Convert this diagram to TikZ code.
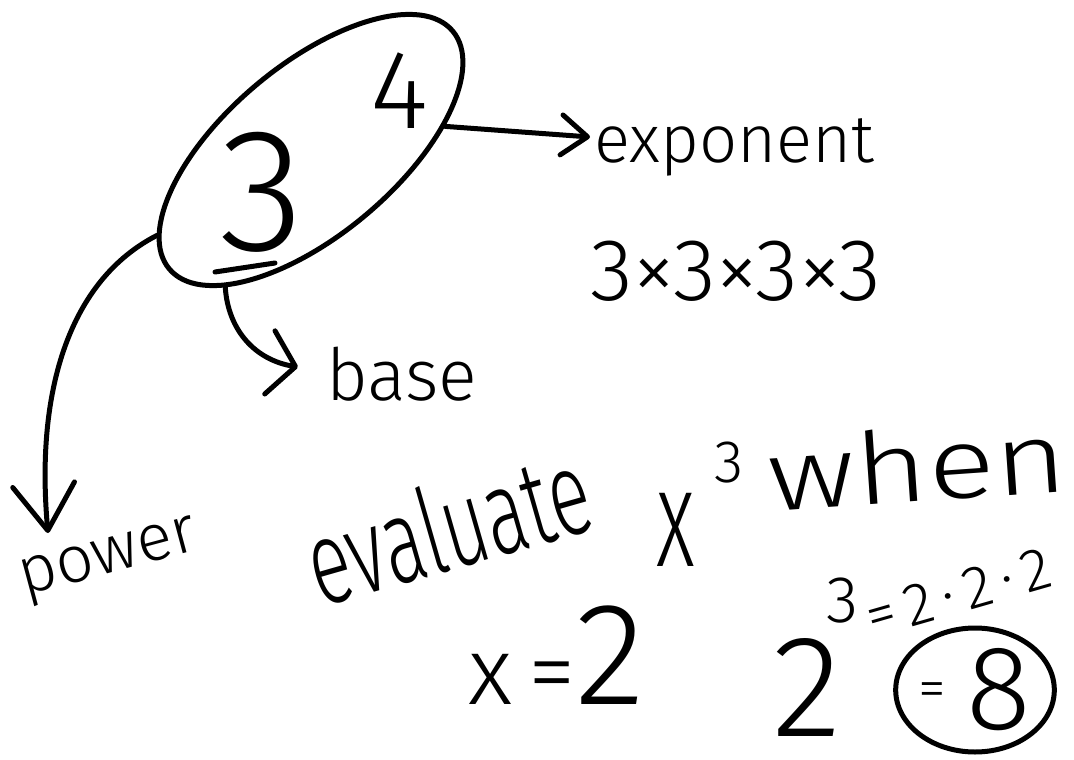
\documentclass[tikz,border=0pt]{standalone}
\usepackage{fontspec}
\setmainfont{Fira Sans}[UprightFont={* Light}]
\usepackage{tikz}
\usetikzlibrary{arrows.meta, shapes.geometric}
\newcommand{\inkfont}[1]{\fontsize{#1}{#1}\selectfont}

\begin{document}
\begin{tikzpicture}[
    x=1pt, y=-1pt,
    ink/.style={line width=5pt, line cap=round, line join=round},
    word/.style={inner sep=0pt, anchor=base west},
    digit/.style={inner sep=0pt},
  ]
  \useasboundingbox[fill=white] (0,0) rectangle (1074,760);
  % 3 to the power 4
  \node[ink, draw, ellipse, rotate=40, minimum width=370pt, minimum height=170pt, inner sep=0pt] (pow) at (311,150) {};
  \node[digit, font=\inkfont{175}] (base3) at (262,192) {3};
  \node[digit, font=\inkfont{112}] (exp4)  at (400,91)  {4};
  \draw[ink] (215,272) -- (275,263);
  % labels
  \node[word, font=\inkfont{67}] (expo) at (594,162) {exponent};
  \node[word, font=\inkfont{88}] (prod) at (590,300) {3×3×3×3};
  \node[word, font=\inkfont{72}] (basew) at (326,400) {base};
  \node[word, font=\inkfont{66}, rotate=15] (powerw) at (24,596) {power};
  \coordinate (expotip)  at (590,137);
  \coordinate (basetip)  at (298,367);
  \coordinate (powertip) at (48,533);
  \draw[ink, -{Straight Barb[round, length=26pt, width=40pt]}] (pow.-30) -- (expotip);
  \draw[ink, -{Straight Barb[round, length=26pt, width=64pt]}] (pow.198) .. controls (228,330) and (255,360) .. (basetip);
  \draw[ink, -{Straight Barb[round, length=46pt, width=62pt]}] (pow.169) .. controls (70,280) and (35,390) .. (powertip);
  % evaluate x^3 when x = 2
  \node[word, font=\inkfont{120}, rotate=16, xscale=0.64] (evalw) at (320,608) {evaluate};
  \node[word, font=\inkfont{140}, xscale=0.6] (xvar) at (656,566) {x};
  \node[word, font=\inkfont{60}] (xcube) at (714,482) {3};
  \node[word, font=\inkfont{100}, rotate=4, xscale=1.25] (whenw) at (770,512) {when};
  \node[word, font=\inkfont{96}] (xval) at (468,704) {x\,={\inkfont{146}2}};
  \node[word, font=\inkfont{145}] (two) at (772,736) {2};
  \node[word, font=\inkfont{66}] (twocube) at (826,622) {3};
  \node[word, font=\inkfont{60}, rotate=16] (expand) at (872,638) {=\,2\,·\,2\,·\,2};
  \node[ink, draw, ellipse, minimum width=140pt, minimum height=124pt, inner sep=0pt, font=\inkfont{120}] (eight) at (975,690) {\raisebox{22pt}{\inkfont{56}=}\,8};
\end{tikzpicture}
\end{document}
